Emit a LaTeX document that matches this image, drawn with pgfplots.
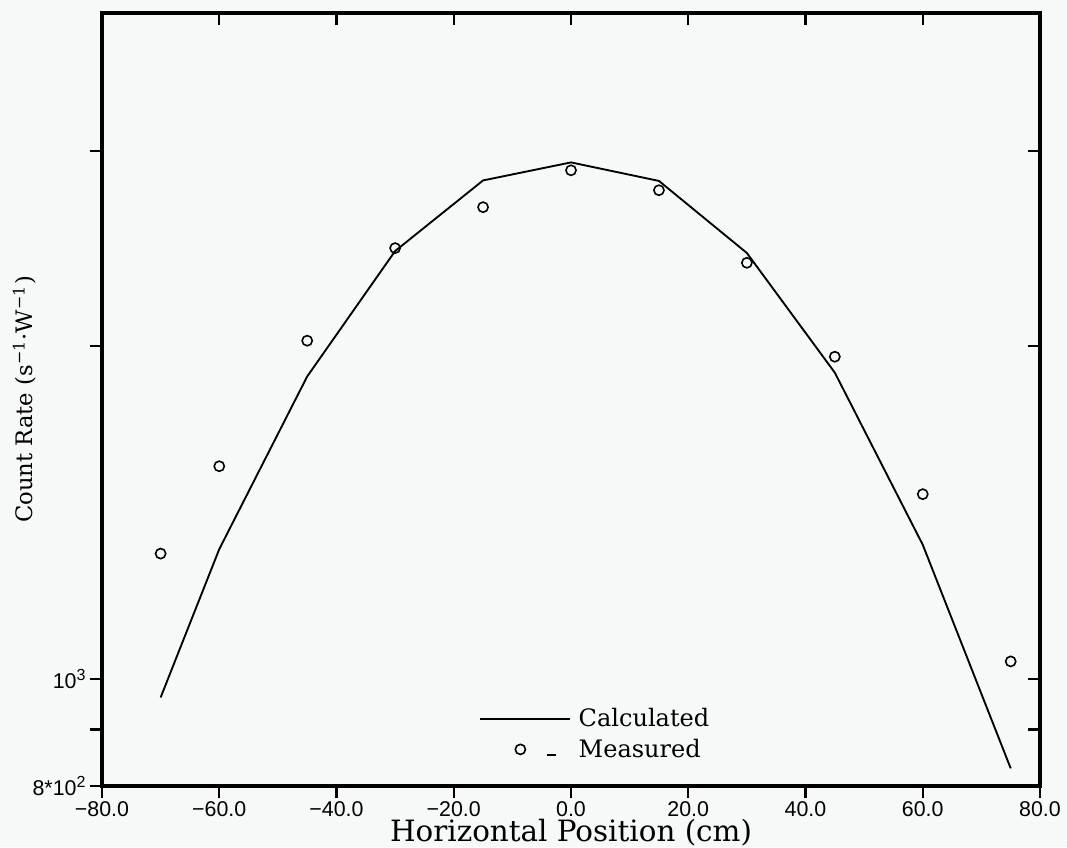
\documentclass[border=0pt]{standalone}
\usepackage{fontspec}
\setmainfont{DejaVu Serif}
\newfontfamily\ticksf{Liberation Sans}
\usepackage{pgfplots}
\pgfplotsset{compat=1.18}
\definecolor{paper}{RGB}{247,248,248}

\pgfplotstableread{
x     y
-70   962
-60   1310
-45   1877
-30   2437
-15   2823
0     2931
15    2820
30    2427
45    1892
60    1322
75    830
}\calcdata

\pgfplotstableread{
x     y
-70   1298
-60   1557
-45   2022
-30   2452
-15   2670
0     2883
15    2766
30    2378
45    1956
60    1469
75    1037
}\measdata

\begin{document}
\begin{tikzpicture}
\path[use as bounding box, fill=paper] (-38.2pt,-22.85pt) rectangle (361.4pt,294.4pt);
% bottom/left: outward ticks, labels and data
\begin{axis}[
  scale only axis, width=351.3pt, height=289.5pt,
  xmin=-80, xmax=80, ymode=log, ymin=800, ymax=4000,
  major tick length=4.5pt,
  axis line style={line width=1.3pt},
  tick style={black, line width=0.9pt},
  tick align=outside,
  xtick pos=bottom, ytick pos=left,
  xtick={-80,-60,...,80},
  xticklabels={−80.0,−60.0,−40.0,−20.0,0.0,20.0,40.0,60.0,80.0},
  ytick={800,900,1000,2000,3000},
  yticklabels={8*10\textsuperscript{2},,10\textsuperscript{3},,},
  tick label style={font=\ticksf\fontsize{8}{9}\selectfont},
  xticklabel style={inner sep=1pt},
  yticklabel style={inner sep=1pt},
  xlabel={Horizontal Position (cm)},
  ylabel={Count Rate (s\textsuperscript{−1}·W\textsuperscript{−1})},
  xlabel style={font=\fontsize{11}{12}\selectfont, at={(axis description cs:0.5,-0.06)}, anchor=center},
  ylabel style={font=\fontsize{8.5}{10}\selectfont, at={(axis description cs:-0.083,0.5)}, anchor=center},
  legend cell align=left,
  legend style={draw=none, fill=none, at={(rel axis cs:0.393,0.112)}, anchor=north west,
    font=\fontsize{9}{10}\selectfont, row sep=1.5pt,
    nodes={inner sep=1pt, text height=7pt, text depth=1pt}},
]
\addplot[black, line width=0.7pt,
  legend image code/.code={\draw[black, line width=0.7pt] (0cm,0cm) -- (1.18cm,0cm);}]
  table[x=x, y=y] {\calcdata};
\addlegendentry{\hspace{2pt}Calculated}
\addplot[black, only marks, mark=o, mark size=1.9pt, mark options={line width=0.6pt},
  legend image code/.code={
    \draw[black, line width=0.6pt] (0.53cm,0cm) circle (1.9pt);
    \draw[black, line width=0.8pt] (0.88cm,-0.07cm) -- (1.0cm,-0.07cm);}]
  table[x=x, y=y] {\measdata};
\addlegendentry{\hspace{2pt}Measured}
\end{axis}
% top/right: inward ticks only
\begin{axis}[
  scale only axis, width=351.3pt, height=289.5pt,
  xmin=-80, xmax=80, ymode=log, ymin=800, ymax=4000,
  major tick length=4.5pt,
  tick style={black, line width=0.9pt},
  axis line style={draw=none},
  tick align=inside,
  xtick pos=top, ytick pos=right,
  xtick={-60,-40,...,60},
  ytick={900,1000,2000,3000},
  xticklabels={}, yticklabels={},
]
\end{axis}
\end{tikzpicture}
\end{document}
